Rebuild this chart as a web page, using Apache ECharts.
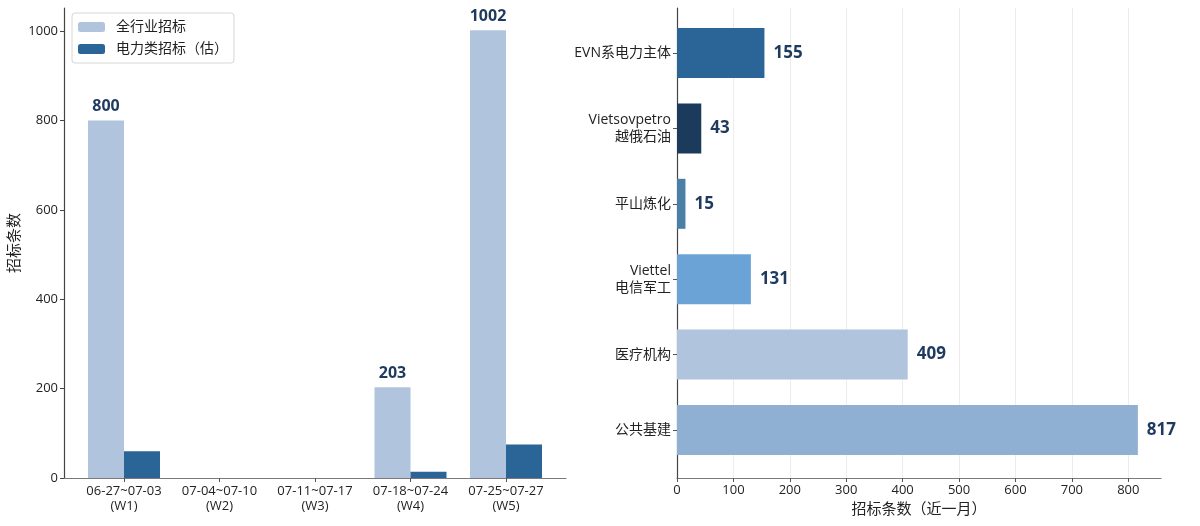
<!DOCTYPE html>
<html>
<head>
<meta charset="utf-8">
<script src="https://cdn.jsdelivr.net/npm/echarts@6/dist/echarts.min.js"></script>
<style>
  html, body { margin: 0; padding: 0; background: #fff; }
  #main { width: 1200px; height: 526px; }
</style>
</head>
<body>
<div id="main"></div>
<script>
// 左图：周度招标
var weeks = ['06-27~07-03\n(W1)', '07-04~07-10\n(W2)', '07-11~07-17\n(W3)', '07-18~07-24\n(W4)', '07-25~07-27\n(W5)'];
var allTenders = [800, 0, 0, 203, 1002];
var powerTenders = [60, 0, 0, 14, 75];
var leftTicks = [0, 200, 400, 600, 800, 1000];

// 右图：主体分布
var entities = ['EVN系电力主体', 'Vietsovpetro\n越俄石油', '平山炼化', 'Viettel\n电信军工', '医疗机构', '公共基建'];
var entityCounts = [155, 43, 15, 131, 409, 817];
var entityColors = ['#2b6496', '#1b3a5c', '#4a7fa6', '#6ba3d6', '#b0c4de', '#8fb0d3'];
var rightTicks = [0, 100, 200, 300, 400, 500, 600, 700, 800];

var FONT = '"Open Sans", "Noto Sans CJK SC", sans-serif';
var leftMax = 1052;
var rightMax = 858;

var chart = echarts.init(document.getElementById('main'), null, { renderer: 'canvas' });

function plain(v) { return String(v); }

var option = {
  animation: false,
  backgroundColor: '#fff',
  textStyle: { fontFamily: FONT },
  legend: {
    left: 72,
    top: 13,
    orient: 'vertical',
    itemWidth: 27,
    itemHeight: 10,
    itemGap: 8,
    padding: [7, 6, 7, 6],
    backgroundColor: '#fff',
    borderColor: '#d6d6d6',
    borderWidth: 1,
    borderRadius: 3,
    textStyle: { fontFamily: FONT, fontSize: 14, color: '#222', padding: [0, 0, 0, 6] },
    data: ['全行业招标', '电力类招标（估）']
  },
  grid: [
    // 0: 左图边框
    { left: 64, right: 634, top: 8, bottom: 48 },
    // 1: 左图柱子
    { left: 76.25, right: 646.25, top: 8, bottom: 48 },
    // 2: 右图边框
    { left: 677, right: 39, top: 8, bottom: 48 },
    // 3: 右图柱子
    { left: 677, right: 39, top: 15.3, bottom: 58.3 }
  ],
  xAxis: [
    {
      gridIndex: 0, type: 'value', min: 0, max: 1,
      axisLine: { show: true, lineStyle: { color: '#7a7a7a', width: 1.2 } },
      axisTick: { show: false }, axisLabel: { show: false }, splitLine: { show: false }
    },
    {
      gridIndex: 1, type: 'category', data: weeks,
      axisLine: { show: false },
      axisTick: { show: true, alignWithLabel: true, length: 4, lineStyle: { color: '#555' } },
      axisLabel: { fontFamily: FONT, fontSize: 13, color: '#222', lineHeight: 15, margin: 6, interval: 0 }
    },
    {
      gridIndex: 2, type: 'value', min: 0, max: rightMax,
      axisLine: { show: true, lineStyle: { color: '#7a7a7a', width: 1.2 } },
      axisTick: { show: true, length: 4, lineStyle: { color: '#555' }, customValues: rightTicks },
      axisLabel: { fontFamily: FONT, fontSize: 13, color: '#222', margin: 6, customValues: rightTicks, formatter: plain },
      splitLine: { show: true, lineStyle: { color: '#ececec', width: 1 } },
      name: '招标条数（近一月）',
      nameLocation: 'middle',
      nameGap: 24,
      nameTextStyle: { fontFamily: FONT, fontSize: 15, color: '#222' }
    },
    {
      gridIndex: 3, type: 'value', min: 0, max: rightMax,
      show: false
    }
  ],
  yAxis: [
    {
      gridIndex: 0, type: 'value', min: 0, max: leftMax,
      axisLine: { show: true, lineStyle: { color: '#444', width: 1.2 } },
      axisTick: { show: true, length: 4, lineStyle: { color: '#444' }, customValues: leftTicks },
      axisLabel: { fontFamily: FONT, fontSize: 13, color: '#222', margin: 6, customValues: leftTicks, formatter: plain },
      splitLine: { show: false },
      name: '招标条数',
      nameLocation: 'middle',
      nameGap: 42,
      nameRotate: 90,
      nameTextStyle: { fontFamily: FONT, fontSize: 15, color: '#222' }
    },
    {
      gridIndex: 1, type: 'value', min: 0, max: leftMax, show: false
    },
    {
      gridIndex: 2, type: 'value', min: 0, max: 1,
      axisLine: { show: true, lineStyle: { color: '#444', width: 1.2 } },
      axisTick: { show: false }, axisLabel: { show: false }, splitLine: { show: false }
    },
    {
      gridIndex: 3, type: 'category', data: entities, inverse: true,
      axisLine: { show: false },
      axisTick: { show: true, alignWithLabel: true, length: 4, lineStyle: { color: '#555' } },
      axisLabel: { fontFamily: FONT, fontSize: 14, color: '#222', lineHeight: 17, margin: 6, align: 'right' }
    }
  ],
  series: [
    {
      name: '全行业招标',
      type: 'bar',
      xAxisIndex: 1,
      yAxisIndex: 1,
      barWidth: 36,
      barGap: '0%',
      itemStyle: { color: '#b0c4de' },
      label: {
        show: true,
        position: 'top',
        distance: 6,
        fontFamily: FONT,
        fontSize: 16,
        fontWeight: 'bold',
        color: '#1f3a5f',
        formatter: function (p) { return p.value > 0 ? String(p.value) : ''; }
      },
      data: allTenders
    },
    {
      name: '电力类招标（估）',
      type: 'bar',
      xAxisIndex: 1,
      yAxisIndex: 1,
      barWidth: 36,
      barGap: '0%',
      itemStyle: { color: '#2b6496' },
      data: powerTenders
    },
    {
      name: '主体',
      type: 'bar',
      xAxisIndex: 3,
      yAxisIndex: 3,
      barWidth: 50,
      label: {
        show: true,
        position: 'right',
        distance: 9,
        fontFamily: FONT,
        fontSize: 17,
        fontWeight: 'bold',
        color: '#1f3a5f'
      },
      data: entityCounts.map(function (v, i) {
        return { value: v, itemStyle: { color: entityColors[i] } };
      })
    }
  ]
};

chart.setOption(option);
</script>
</body>
</html>
